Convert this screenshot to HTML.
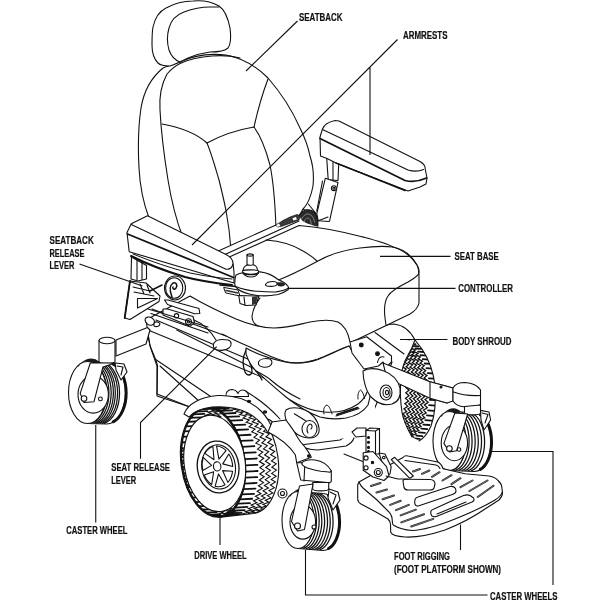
<!DOCTYPE html>
<html><head><meta charset="utf-8">
<style>
html,body{margin:0;padding:0;background:#fff;width:600px;height:600px;overflow:hidden}
svg{display:block}
text{font-family:"Liberation Sans",sans-serif;font-weight:bold;font-size:10px;fill:#111;stroke:#111;stroke-width:0.2px}
</style></head><body>
<svg width="600" height="600" viewBox="0 0 600 600">
<rect width="600" height="600" fill="#fff"/>
<g id="drawing" fill="#fff" stroke="#111" stroke-width="1.1" stroke-linejoin="round" stroke-linecap="round">

<path d="M163 68 C152 77 144 90 141 108 C138 128 138 150 139 168 C140 188 143 202 149 218 L225 262 L298 222 C300 214 301 212 302.7 209.5 C307 205 311 197 313 186 C314 176 313 165 310 156 C308 146 305 138 300 128 C292 110 282 94 268 78 C256 66 242 58 226 55 C208 53 192 56 180 62 C174 64 168 66 163 68 Z"/>
<path fill="none" d="M183 238 C177 222 172 205 168 180 C164 155 161 130 160 110 C159 95 161 85 167 74 C172 68 177 65 181 63"/>
<path fill="none" d="M162 124 C178 127 195 132 207 143"/>
<path fill="none" d="M207 143 C218 137 236 130 254 127"/>
<path fill="none" d="M254 127 C256 118 260 100 268 79"/>
<path fill="none" d="M254 127 C260 135 266 150 270 165 C273 180 275 200 276 228"/>
<path fill="none" d="M207 143 C212 155 216 170 219 180 C224 200 229 220 231 250"/>
<path d="M170 66 C164 66 160 65 158 63 C154 59 152 52 152 45 C152 38 152 32 153 27 C155 18 160 11 166 8 C175 3 185 1 193 1 C203 0 212 2 219 6 C225 10 228 18 230 28 C231 36 231 44 228 48 C225 51 218 52 210 52 C202 53 195 55 188 58 C182 61 176 64 170 66 Z"/>
<path fill="none" d="M180 62 C175 60 171 56 169 50 C167 43 167 35 169 28 C171 20 176 15 184 12 C192 9 202 7 210 7 C214 7 217 7 219 7"/>
<path fill="none" d="M181 63 C190 59 200 57 212 56 C222 55 232 56 240 58"/>


<path fill="#2a2a2a" stroke="#111" d="M295.5 227 C295.5 219 300 211.5 306.5 209.8 C312 209 316.5 213 317.5 218.5 C318 221.5 318 224 317.8 227 Z"/>
<path fill="none" stroke="#999" stroke-width="0.8" d="M300 226 C300 220 303 215 307 214 C311 213.8 313.8 217 314.5 222 M303.5 226 C303.5 222 305 218.5 307.5 218 C310 218 311 221 311.2 224"/>
<path fill="none" d="M302.7 209.5 L305 209.8"/>
<path fill="none" d="M308.3 204 L316 213.5"/>


<path d="M326.7 158 L328.2 179.7 L338 180.5 L338.8 162 Z"/>
<path fill="none" d="M333 160 L333 180"/>
<path d="M325.3 178.3 L338 182.6 L329.6 220.8 L328.9 221.5 L318.2 220.8 L316.8 213.7 Z"/>
<path fill="none" d="M322.5 181 L316.8 211"/>
<path fill="none" d="M318.2 220.8 L328 217"/>
<circle cx="333.8" cy="188.2" r="2.4"/>
<circle cx="333.8" cy="188.2" r="1"/>
<path d="M320 137 L322.5 129 C324 125 328 122 335 120.5 L339 121 L420 161.5 C424 164 425.5 166 425 168 L427 178 L426 184 L420 187 L408 191 L336 163 L327 158.5 L320.5 156 Z"/>
<path fill="none" d="M322.5 129.5 L408 170 C413 171.5 419 171.5 423.5 169.5"/>
<path fill="none" stroke-width="1.8" d="M320 138.5 L405 180.5 C413 182.5 420 181 426.5 178"/>
<path fill="none" stroke-width="1.6" stroke-dasharray="1 1" d="M336 163 L405 190.5"/>

<clipPath id="rdclip"><path d="M372 332 C380 327 388 324 394 324 C402 325 410 330 415 340 L422 349 C428 358 433 370 435 385 C436 400 435 415 431 426 C428 433 424 438 419 441 L412 437 C407 428 403 420 402 412 C400 400 400 390 401 378 C402 368 404 362 407 357 C410 352 413 346 415 342 Z"/></clipPath>
<path stroke="none" d="M372 332 C380 327 388 324 394 324 C402 325 410 330 415 340 L422 349 C428 358 433 370 435 385 C436 400 435 415 431 426 C428 433 424 438 419 441 L412 437 C407 428 403 420 402 412 C400 400 400 390 401 378 C402 368 404 362 407 357 C410 352 413 346 415 342 Z"/>
<g clip-path="url(#rdclip)">
<path fill="none" stroke-width="1.8" d="M399.6 341.8 L393.6 341.4 M402.8 341.1 L396.8 340.7 M406.1 341.0 L400.1 340.6 M409.3 341.5 L403.3 341.1 M412.5 342.5 L406.5 342.1 M415.6 344.1 L409.6 343.7 M418.6 346.3 L412.6 345.9 M421.4 348.9 L415.4 348.5 M424.1 352.0 L418.1 351.6 M426.5 355.6 L420.5 355.2 M428.7 359.6 L422.7 359.2 M430.7 363.9 L424.7 363.5 M432.4 368.6 L426.4 368.2 M433.7 373.5 L427.7 373.1 M434.8 378.7 L428.8 378.3 M435.5 384.0 L429.5 383.6 M435.9 389.4 L429.9 389.0 M436.0 394.8 L430.0 394.4 M435.7 400.2 L429.7 399.8 M435.1 405.6 L429.1 405.2 M434.1 410.8 L428.1 410.4 M432.9 415.8 L426.9 415.4 M431.3 420.6 L425.3 420.2 M429.4 425.0 L423.4 424.6 M427.3 429.1 L421.3 428.7 M424.9 432.8 L418.9 432.4 M422.3 436.1 L416.3 435.7 M419.6 438.9 L413.6 438.5 M416.6 441.2 L410.6 440.8 M413.5 443.0 L407.5 442.6 M410.4 444.2 L404.4 443.8 M407.2 444.9 L401.2 444.5 M403.9 445.0 L397.9 444.6 M400.7 444.5 L394.7 444.1"/>
<path fill="none" stroke-width="1.3" stroke-linejoin="miter" d="M389.0 341.1 L393.9 340.9 L392.2 340.4 L397.1 340.5 L395.4 340.3 L400.4 340.7 L398.7 340.8 L403.6 341.5 L401.8 341.8 L406.7 342.8 L405.0 343.4 L409.8 344.6 L407.9 345.6 L412.7 347.0 L410.8 348.2 L415.4 349.9 L413.4 351.3 L418.0 353.3 L415.9 354.9 L420.3 357.0 L418.1 358.9 L422.4 361.2 L420.1 363.2 L424.2 365.7 L421.7 367.9 L425.7 370.5 L423.1 372.8 L427.0 375.6 L424.1 378.0 L427.9 380.8 L424.9 383.3 L428.4 386.2 L425.3 388.7 L428.6 391.6 L425.3 394.1 L428.5 397.0 L425.0 399.5 L428.1 402.4 L424.4 404.9 L427.3 407.7 L423.5 410.1 L426.2 412.8 L422.2 415.1 L424.8 417.7 L420.6 419.8 L423.0 422.3 L418.8 424.3 L421.0 426.6 L416.6 428.4 L418.8 430.5 L414.3 432.1 L416.3 434.0 L411.7 435.4 L413.6 437.1 L408.9 438.2 L410.8 439.6 L406.0 440.5 L407.7 441.7 L402.9 442.3 L404.6 443.2 L399.7 443.5 L401.4 444.1 L396.5 444.2 L398.2 444.5 L393.3 444.3 L394.9 444.3 L390.0 443.8 M385.1 340.8 L390.0 340.6 L388.3 340.2 L393.2 340.3 L391.5 340.1 L396.5 340.4 L394.8 340.5 L399.7 341.2 L397.9 341.6 L402.8 342.5 L401.1 343.2 L405.9 344.4 L404.0 345.3 L408.8 346.8 L406.9 347.9 L411.5 349.7 L409.5 351.1 L414.1 353.0 L412.0 354.6 L416.4 356.8 L414.2 358.6 L418.5 361.0 L416.2 363.0 L420.3 365.5 L417.8 367.6 L421.8 370.3 L419.2 372.6 L423.1 375.3 L420.2 377.7 L424.0 380.6 L421.0 383.0 L424.5 385.9 L421.4 388.4 L424.7 391.3 L421.4 393.8 L424.6 396.8 L421.1 399.3 L424.2 402.2 L420.5 404.6 L423.4 407.5 L419.6 409.8 L422.3 412.6 L418.3 414.8 L420.9 417.5 L416.7 419.6 L419.1 422.1 L414.9 424.0 L417.1 426.4 L412.7 428.2 L414.9 430.3 L410.4 431.9 L412.4 433.8 L407.8 435.1 L409.7 436.8 L405.0 437.9 L406.9 439.4 L402.1 440.2 L403.8 441.4 L399.0 442.0 L400.7 442.9 L395.8 443.2 L397.5 443.9 L392.6 443.9 L394.3 444.2 L389.4 444.0 L391.0 444.1 L386.1 443.5 M381.2 340.6 L386.1 340.4 L384.4 339.9 L389.3 340.0 L387.6 339.8 L392.6 340.2 L390.9 340.3 L395.8 340.9 L394.0 341.3 L398.9 342.3 L397.2 342.9 L402.0 344.1 L400.1 345.0 L404.9 346.5 L403.0 347.7 L407.6 349.4 L405.6 350.8 L410.2 352.7 L408.1 354.4 L412.5 356.5 L410.3 358.3 L414.6 360.7 L412.3 362.7 L416.4 365.2 L413.9 367.4 L417.9 370.0 L415.3 372.3 L419.2 375.1 L416.3 377.4 L420.1 380.3 L417.1 382.7 L420.6 385.7 L417.5 388.1 L420.8 391.1 L417.5 393.6 L420.7 396.5 L417.2 399.0 L420.3 401.9 L416.6 404.3 L419.5 407.2 L415.7 409.6 L418.4 412.3 L414.4 414.6 L417.0 417.2 L412.8 419.3 L415.2 421.8 L411.0 423.8 L413.2 426.1 L408.8 427.9 L411.0 430.0 L406.5 431.6 L408.5 433.5 L403.9 434.9 L405.8 436.6 L401.1 437.7 L403.0 439.1 L398.2 440.0 L399.9 441.2 L395.1 441.8 L396.8 442.7 L391.9 443.0 L393.6 443.6 L388.7 443.6 L390.4 444.0 L385.5 443.7 L387.1 443.8 L382.2 443.3 M377.3 340.3 L382.2 340.1 L380.5 339.6 L385.4 339.7 L383.7 339.5 L388.7 339.9 L387.0 340.0 L391.9 340.7 L390.1 341.1 L395.0 342.0 L393.3 342.6 L398.1 343.9 L396.2 344.8 L401.0 346.2 L399.1 347.4 L403.7 349.1 L401.7 350.5 L406.3 352.5 L404.2 354.1 L408.6 356.3 L406.4 358.1 L410.7 360.4 L408.4 362.4 L412.5 364.9 L410.0 367.1 L414.0 369.8 L411.4 372.0 L415.3 374.8 L412.4 377.2 L416.2 380.0 L413.2 382.5 L416.7 385.4 L413.6 387.9 L416.9 390.8 L413.6 393.3 L416.8 396.3 L413.3 398.7 L416.4 401.7 L412.7 404.1 L415.6 406.9 L411.8 409.3 L414.5 412.0 L410.5 414.3 L413.1 416.9 L408.9 419.1 L411.3 421.6 L407.1 423.5 L409.3 425.8 L404.9 427.6 L407.1 429.8 L402.6 431.3 L404.6 433.3 L400.0 434.6 L401.9 436.3 L397.2 437.4 L399.1 438.9 L394.3 439.7 L396.0 440.9 L391.2 441.5 L392.9 442.4 L388.0 442.7 L389.7 443.3 L384.8 443.4 L386.5 443.7 L381.6 443.5 L383.2 443.5 L378.3 443.0 M373.4 340.0 L378.3 339.9 L376.6 339.4 L381.5 339.5 L379.8 339.3 L384.8 339.7 L383.1 339.8 L388.0 340.4 L386.2 340.8 L391.1 341.7 L389.4 342.4 L394.2 343.6 L392.3 344.5 L397.1 346.0 L395.2 347.2 L399.8 348.9 L397.8 350.3 L402.4 352.2 L400.3 353.8 L404.7 356.0 L402.5 357.8 L406.8 360.2 L404.5 362.2 L408.6 364.7 L406.1 366.8 L410.1 369.5 L407.5 371.8 L411.4 374.5 L408.5 376.9 L412.3 379.8 L409.3 382.2 L412.8 385.1 L409.7 387.6 L413.0 390.6 L409.7 393.1 L412.9 396.0 L409.4 398.5 L412.5 401.4 L408.8 403.8 L411.7 406.7 L407.9 409.0 L410.6 411.8 L406.6 414.0 L409.2 416.7 L405.0 418.8 L407.4 421.3 L403.2 423.3 L405.4 425.6 L401.0 427.4 L403.2 429.5 L398.7 431.1 L400.7 433.0 L396.1 434.4 L398.0 436.0 L393.3 437.2 L395.2 438.6 L390.4 439.5 L392.1 440.6 L387.3 441.2 L389.0 442.1 L384.1 442.5 L385.8 443.1 L380.9 443.1 L382.6 443.5 L377.7 443.2 L379.3 443.3 L374.4 442.7 M369.5 339.8 L374.4 339.6 L372.7 339.1 L377.6 339.2 L375.9 339.0 L380.9 339.4 L379.2 339.5 L384.1 340.2 L382.3 340.5 L387.2 341.5 L385.5 342.1 L390.3 343.3 L388.4 344.3 L393.2 345.7 L391.3 346.9 L395.9 348.6 L393.9 350.0 L398.5 352.0 L396.4 353.6 L400.8 355.7 L398.6 357.6 L402.9 359.9 L400.6 361.9 L404.7 364.4 L402.2 366.6 L406.2 369.2 L403.6 371.5 L407.5 374.3 L404.6 376.7 L408.4 379.5 L405.4 382.0 L408.9 384.9 L405.8 387.4 L409.1 390.3 L405.8 392.8 L409.0 395.7 L405.5 398.2 L408.6 401.1 L404.9 403.6 L407.8 406.4 L404.0 408.8 L406.7 411.5 L402.7 413.8 L405.3 416.4 L401.1 418.5 L403.5 421.0 L399.3 423.0 L401.5 425.3 L397.1 427.1 L399.3 429.2 L394.8 430.8 L396.8 432.7 L392.2 434.1 L394.1 435.8 L389.4 436.9 L391.3 438.3 L386.5 439.2 L388.2 440.4 L383.4 441.0 L385.1 441.9 L380.2 442.2 L381.9 442.8 L377.0 442.9 L378.7 443.2 L373.8 443.0 L375.4 443.0 L370.5 442.5"/>
</g>
<path fill="none" d="M415 340 L422 349 C428 358 433 370 435 385 C436 400 435 415 431 426 C428 433 424 438 419 441"/>
<path fill="none" d="M372 332 C380 327 388 324 394 324 C402 325 410 330 415 340 C413 346 410 352 407 357 C404 362 402 368 401 378 C400 390 400 400 402 412 C403 420 407 428 412 437"/>

<path d="M146 320 L190 296 L250 322 L300 340 L352 342 L392 362 L386 380 L370 420 L340 440 L300 445 L270 420 L230 404 L190 407 L157 396 L157 366 L150 346 Z"/>
<path fill="none" d="M152 309 L226 336"/>
<path fill="none" d="M156 320 L250 360 L300 382"/>
<path fill="none" d="M148 330 L250 372 L310 398"/>
<path fill="none" d="M147 329 C148 338 150 347 153 353 C155 358 157 362 157.5 366 L157 394 L190 407"/>
<path fill="none" d="M155.3 359.3 L210 396"/>
<path fill="none" d="M160 366 L200 402"/>
<path fill="none" d="M176.7 330 L310 396.7"/>


<path stroke="none" d="M215 252.5 L276 225 L300 216.5 C300 226 330 228 363 237 C378 241 390 245 393 247 C403 250 412 257 417 265 C419 269 419 272 419 276 L419 303 C418 308 415 311 410 314 L354 341 C350 345 348 348 346 350 C335 356 320 362 300 362 C280 362 265 356 250 345 C238 338 228 332 220 326 L200 302 L190 296 L165 288 L146 275 L140 240 Z"/>
<path fill="none" d="M393 247 C403 250 412 257 417 265 C419 269 419 272 419 276 L419 303 C418 308 415 311 410 314 L354 341"/>
<path fill="none" d="M363 237 C378 241 390 245 393 247"/>
<path fill="none" d="M215 252.5 L276 225"/>
<path fill="none" d="M215 259 L299 221"/>
<path fill="none" d="M215 263.5 L299 225.5 C320 227 340 231 363 237"/>
<path fill="none" d="M266 240 C280 241 292 244 303 251 C310 255 314 258 317 261"/>
<path fill="none" d="M276 281 C292 275 305 268 318 261 C330 254 345 250 360 248 C375 246 385 246 393 247 C403 249 412 256 417 265 C419 268 419.5 271 418.5 274 C417 277 413 279 408 282 C398 287 391 291 388 296 C384 302 384 310 385 318 L386 325"/>
<path fill="none" d="M190 296 C205 305 220 312 236 319 C248 324 262 328 274 328 C290 328 300 324 310 322 C320 320 330 319 338 322 C344 325 348 332 350 342"/>
<path fill="none" d="M260 298 C256 303 253 309 252 316 C252 321 254 324 258 326"/>
<path fill="none" d="M222 334 C230 338 240 343 250 347 C262 353 272 358 285 361.5 C297 364 308 362.5 318 359 C328 355 338 350 349 346"/>


<path fill="#3a3a3a" stroke="#111" stroke-width="0.7" d="M277 224.5 L283 220.5 L290 217 L297 214.5 L300 216 L299 220 L291 223 L281 226.5 Z"/>
<path fill="#fff" stroke="#111" stroke-width="0.6" d="M276 224.8 L279 223 L281 226 L278 227 Z M292 218 L296 216.5 L297.5 219.5 L293.5 221 Z"/>


<path d="M127 232.5 L131.25 223.75 L147.5 215.8 L226 254.5 C231 257 233 260 233 263.5 L234 272 L234 283 L129.2 251.7 Z"/>
<path fill="none" d="M131.25 224.6 L226 269.2 C229.5 269.6 232 268 233 264"/>
<path fill="none" stroke-width="1.8" d="M127.5 234 L233.5 277.5"/>


<path fill="none" stroke-width="2" d="M131 256 C145 263 165 271 185 277 C200 281 215 283 232 285"/>
<path fill="none" stroke-width="1" d="M133 254 C150 261 170 268 190 273 C205 276 218 278 232 279"/>
<path d="M131.5 257 L146.5 265.5 L146.5 279 L138 281 L131 279 Z"/>
<path fill="none" d="M137 259 L137 280 M142 262 L142 279.5"/>
<path d="M130 281 L146 283 L160 296 L159 301.5 L130 319.5 L124.7 318 Z"/>
<path fill="none" stroke-width="1.8" d="M130 281 L124.7 318"/>
<path fill="none" d="M137.5 308 L137.5 298.5 L157.5 298.5 Z"/>
<path fill="none" d="M133 287 L150 291 M134 292 L154 296 M140 284 L144 294 M147 285 L150 293"/>
<path fill="none" stroke-width="1.4" d="M150 291 L162 285"/>
<ellipse cx="175" cy="288" rx="10.5" ry="12"/>
<ellipse cx="174.2" cy="288" rx="8.6" ry="10.3"/>
<path fill="none" stroke-width="1.5" d="M172 297 C170 292 169 286 173 283 C176 282 178 285 176 288 C175 290 172 289 173 287"/>
<path d="M163 309 L167.5 309 L193 316.5 L194.5 322.5 L190 326.3 L163 315 Z"/>
<path d="M164.5 300 L168 300 L199 308.5 L199.8 313.5 L194.5 313.8 L167.5 304.5 Z"/>
<circle cx="176.5" cy="315.8" r="2.2"/>
<circle cx="188.5" cy="321.8" r="3"/>
<circle cx="188.5" cy="321.8" r="1.2"/>
<path fill="none" d="M148 309 L208 327 M151 313.5 L208 333"/>
<path d="M145 320 C145 317 149 316 152 318 C155 320 156 324 152 325 C149 326 146 324 145 320 Z"/>
<path d="M154 323 C156 321 159 322 160 324 C159 327 156 327 154 326 Z"/>
<path fill="none" d="M194 320 C204 324 210 330 216 340"/>
<path d="M214 343 C216 340 222 339 228 340 C232 341 232 346 229 348 C225 351 218 351 215 349 C213 347 213 345 214 343 Z"/>
<path fill="none" stroke-width="1.3" d="M246 350 C243 356 242 364 245 372 C247 376 251 376 252 372 C252 366 249 360 249 356 M250 364 C254 368 258 372 262 380"/>


<path fill="none" stroke-width="1.6" d="M220 285 L236 286.5"/>
<path fill="#fff" stroke-width="1" d="M224 287.5 L238 290 L240 296 L226 293 Z"/>
<path fill="none" stroke="#333" stroke-width="1.6" stroke-dasharray="0.8 0.8" d="M226 290.5 L238 293"/>
<path d="M238.7 295.5 L240 303.5 L246 305.5 L256 305 L259 296 Z"/>
<path fill="#333" stroke="none" d="M252 297 L258 296 L256 304 L252 305 Z"/>
<path fill="none" d="M244 297 L245 305"/>
<path d="M236 275 C240 273 250 271.5 260 271.9 C266 272.5 272 274.5 278.75 280 C282 281 285 282.5 288 286.25 C289 288 288.5 290 287.5 290 C285 292 282 293.5 278 294.5 C270 296 262 296 257.5 295.5 C250 294.5 243 293 238.5 289.5 C235.5 287.5 234.5 285 234.8 283 C235 280 235 277 236 275 Z"/>
<path fill="none" d="M235 286.25 C242 289 250 291 257.5 291.25 C265 291.8 272 292 276.25 291.9 C281 291.5 285 290 287.5 288.75"/>
<path d="M265.5 284.5 C266.5 282.5 270 281.3 274 281.5 C276.5 281.8 277.5 283 277 284.5 C276 286 272 286.6 268.5 286.3 C266 286 265.2 285.4 265.5 284.5 Z"/>
<path fill="#222" stroke="none" d="M277 282.5 C279.5 281.8 283 282.2 285 283.5 C285.5 285 284 286.3 281 286.5 C279 286.6 277.5 285.8 277 284.5 Z"/>
<path d="M243 271 C243 268 245 266 247 265 C249 264.2 252 264.2 254 265 C256.5 266 257.5 268.5 257.5 271 Z"/>
<path d="M242.5 271 C242.5 273.5 245 277 250.5 277 C256 277 258.7 274 258.7 271 C258 269.5 243.5 269.5 242.5 271 Z"/>
<path fill="none" stroke-width="1.6" d="M243 273 C246 275 255 275 258.3 273"/>
<path d="M247 255 L247 264.5 C248 265.5 252.5 265.5 253.2 264.5 L253.2 255 Z"/>
<ellipse cx="250.1" cy="255" rx="3.1" ry="1.1"/>


<path stroke="none" d="M262 400 L273 406.7 L296.7 425.3 L300 440 L315.3 441.7 L355 437 L372 428 L378 420 L372 395 L356 392 L300 400 Z"/>

<path fill="none" d="M292 442 C300 447 308 450 318 450 L346 446 C350 444 353 441 354 438"/>
<path d="M352 432 L357 428 L366 428 L366 436 L356 437 Z"/>
<path d="M246 348 C258 355 272 359 285 362 C297 364.5 308 363 318 359.5 C328 355.5 338 350.5 349 346 L356 358 C362 363 367 370 369 378 C371 388 371 397 368 405 C364 411 356 416 346 418 C336 419.5 328 419 320 417 C308 413 296 405 286 397 C275 388 265 379 256 371 C251 366 248 360 246 354 Z"/>
<path fill="none" d="M290 400 C300 406 312 411 324 412 C336 413 348 411 358 404 C363 400 366 396 367 392"/>
<path fill="none" d="M256 371 C262 374 268 377 272 381 C280 388 290 394 300 399"/>
<path d="M258.5 362 C260 359 265 358 270 359 C273 361 272.5 365 269 366.5 C265 368 260 367 258.5 364.5 Z"/>
<path fill="none" stroke-width="1" d="M324 414 C323 410 324 406 327 405 C329 406 331 410 332 414 M358 399 C357.5 395 358.5 391 360.5 390 C362.5 391 364 395 364.5 398.5"/>
<path fill="none" stroke-width="1.8" stroke-dasharray="1 0.9" d="M337 414.5 L358 407.5"/>
<path fill="none" d="M336 416 L359 408.5"/>
<path d="M286 410 C290 407 298 407 305 410 C312 413 318 420 319 428 C320 434 316 438 310 438 C300 438 292 432 288 424 C285 419 284 413 286 410 Z"/>
<ellipse cx="309.5" cy="429" rx="7.5" ry="8.5"/>
<path fill="none" d="M308 433 C306 430 307 425 310 424 C312 424 313 427 311 429 M294.3 413.7 L306 421"/>
<path fill="none" d="M375 332.5 L404 354"/>
<path d="M350 342 L366.7 336.7 L391.5 356 L391.5 362 L386 367.5 L383 362 L378.5 366 L364 369 L352 353 Z"/>
<circle cx="361.3" cy="345" r="1.9" fill="#111"/>
<circle cx="377.5" cy="353.8" r="1.9" fill="#111"/>
<path fill="none" d="M377.5 362.5 C378 358 381 356 384 357"/>
<path d="M383 363 L430 381.7 L453 388 L455 398 L447 403 L430 398.3 L387 378.3 Z"/>
<path d="M363 371 C368 368 376 368 384 371 C392 374 398 380 400 388 C401 396 398 402 392 404 C385 406 377 403 371 397 C366 391 363 380 363 371 Z"/>
<ellipse cx="386" cy="392.5" rx="6" ry="7.5"/>
<ellipse cx="386.5" cy="392.5" rx="3.5" ry="5"/>
<ellipse cx="387" cy="392.5" rx="1.5" ry="2.2"/>

<path fill="#fff" d="M87.5 361.5 L106.5 362.0 A19.0 31.0 0 0 1 106.5 424.0 L87.5 423.5 Z"/>
<path fill="none" stroke-width="1.25" d="M89.6 362.2 A19.0 31.0 0 0 1 89.6 422.9"/>
<path fill="none" stroke-width="1.25" d="M91.7 362.2 A19.0 31.0 0 0 1 91.7 423.0"/>
<path fill="none" stroke-width="1.25" d="M93.8 362.3 A19.0 31.0 0 0 1 93.8 423.0"/>
<path fill="none" stroke-width="1.25" d="M95.9 362.3 A19.0 31.0 0 0 1 95.9 423.1"/>
<path fill="none" stroke-width="1.25" d="M98.1 362.4 A19.0 31.0 0 0 1 98.1 423.2"/>
<path fill="none" stroke-width="1.25" d="M100.2 362.5 A19.0 31.0 0 0 1 100.2 423.2"/>
<path fill="none" stroke-width="1.25" d="M102.3 362.5 A19.0 31.0 0 0 1 102.3 423.3"/>
<path fill="none" stroke-width="1.25" d="M104.4 362.6 A19.0 31.0 0 0 1 104.4 423.3"/>
<path fill="none" stroke-width="3" d="M113.2 364.2 A18.0 30.0 0 0 1 113.2 421.8"/>
<ellipse cx="87.5" cy="392.5" rx="19.0" ry="31.0"/>
<path fill="#1a1a1a" stroke="none" d="M76.6 367.1 A19.0 31.0 0 0 1 94.0 363.4 L99.7 361.9 A19.0 31.0 0 0 0 78.3 366.7 Z"/>
<ellipse cx="93.2" cy="394.5" rx="15.2" ry="18.6"/>

<path d="M116 340 L147.5 327.5 L150 330 L146 344 L116 356 Z"/>
<path d="M99 340.5 L99 361.5 C99 364 115 364 115 361.5 L115 340.5 Z"/>
<ellipse cx="107" cy="340.5" rx="8" ry="3.2"/>
<path d="M90.3 363 L115 363 L103 367 L94 401.7 L84 402.5 L80.2 393.4 Z"/>
<path d="M115 363 L124 364 L127 372 L121 380 L116 370 Z"/>
<path fill="none" d="M117 366 L123 367 L121 375"/>
<circle cx="84" cy="398.5" r="2.8"/>
<circle cx="100.4" cy="398.9" r="1.9"/>

<g transform="rotate(-8 214 462)">
<clipPath id="dwclip"><path d="M213 406.5 L246 411.5 A32 53.5 0 0 1 246 518.5 L213 517.5 A32 55.5 0 0 1 213 406.5 Z"/></clipPath>
<path fill="#fff" stroke="none" d="M213 406.5 L246 411.5 A32 53.5 0 0 1 246 518.5 L213 517.5 A32 55.5 0 0 1 213 406.5 Z"/>
<g clip-path="url(#dwclip)">
<path fill="none" stroke-width="1.8" d="M182.9 481.0 L194.8 482.1 M181.9 475.0 L193.8 476.0 M181.2 468.8 L193.1 469.8 M181.0 462.5 L192.9 463.6 M181.2 456.2 L193.1 457.3 M181.8 450.0 L193.6 451.1 M182.7 443.9 L194.6 445.0 M184.1 438.1 L196.0 439.2 M185.9 432.6 L197.7 433.7 M188.0 427.5 L199.8 428.5 M190.4 422.8 L202.3 423.8 M193.1 418.6 L205.0 419.6 M196.0 414.9 L207.9 416.0 M199.2 411.9 L211.1 413.0 M202.6 409.5 L214.5 410.6 M206.1 407.8 L218.0 408.9 M209.7 406.8 L221.5 407.9 M213.3 406.5 L225.2 407.6 M216.9 406.9 L228.8 408.0 M220.5 408.0 L232.4 409.1 M223.9 409.8 L235.8 410.9 M227.3 412.3 L239.2 413.4 M230.4 415.5 L242.3 416.5 M233.4 419.2 L245.2 420.3 M236.0 423.4 L247.9 424.5 M238.4 428.2 L250.3 429.3 M240.4 433.4 L252.3 434.5 M242.1 439.0 L254.0 440.1 M243.4 444.8 L255.3 445.9 M244.4 450.9 L256.2 452.0 M244.9 457.2 L256.8 458.2 M245.0 463.5 L256.9 464.5 M244.7 469.7 L256.6 470.8 M244.0 475.9 L255.9 477.0 M242.9 481.9 L254.8 483.0 M241.4 487.6 L253.3 488.7 M239.5 493.0 L251.4 494.1 M237.3 498.0 L249.2 499.1 M234.8 502.6 L246.7 503.7 M232.0 506.6 L243.9 507.7 M229.0 510.1 L240.9 511.1 M225.8 512.9 L237.6 514.0 M222.4 515.1 L234.2 516.2 M218.8 516.6 L230.7 517.7 M215.2 517.4 L227.1 518.4 M211.6 517.4 L223.5 518.5 M208.0 516.8 L219.9 517.9 M204.4 515.5 L216.3 516.6 M201.0 513.5 L212.9 514.5 M197.7 510.8 L209.6 511.9 M194.6 507.5 L206.5 508.5 M191.8 503.6 L203.7 504.6 M189.2 499.1 L201.1 500.2 M186.9 494.2 L198.8 495.3 M185.0 488.9 L196.9 490.0 M183.4 483.2 L195.3 484.3 M182.2 477.3 L194.1 478.4 M181.4 471.2 L193.3 472.2 M181.0 464.9 L192.9 466.0 M181.1 458.6 L192.9 459.7 M181.5 452.4 L193.4 453.4 M182.3 446.2 L194.2 447.3"/>
<path fill="none" stroke-width="1.1" stroke-linejoin="miter" d="M201.7 482.7 L196.5 479.3 L200.7 476.7 L195.7 473.2 L200.0 470.5 L195.3 466.9 L199.8 464.2 L195.2 460.6 L200.0 457.9 L195.6 454.4 L200.6 451.7 L196.4 448.2 L201.6 445.6 L197.6 442.3 L202.9 439.8 L199.1 436.6 L204.7 434.3 L201.1 431.3 L206.8 429.2 L203.3 426.3 L209.2 424.5 L205.9 421.9 L211.9 420.3 L208.7 418.0 L214.9 416.6 L211.8 414.6 L218.0 413.6 L215.1 411.9 L221.4 411.2 L218.5 409.9 L224.9 409.5 L222.0 408.5 L228.5 408.5 L225.7 407.9 L232.1 408.2 L229.3 407.9 L235.7 408.6 L232.9 408.7 L239.3 409.7 L236.4 410.1 L242.8 411.6 L239.8 412.3 L246.1 414.0 L243.1 415.1 L249.2 417.2 L246.1 418.5 L252.2 420.9 L248.9 422.5 L254.8 425.2 L251.4 427.1 L257.2 429.9 L253.6 432.1 L259.2 435.1 L255.5 437.4 L260.9 440.7 L257.0 443.2 L262.2 446.6 L258.1 449.2 L263.2 452.6 L258.9 455.3 L263.7 458.9 L259.2 461.6 L263.8 465.2 L259.1 467.9 L263.5 471.4 L258.6 474.1 L262.8 477.6 L257.7 480.2 L261.7 483.6 L256.4 486.1 L260.2 489.3 L254.7 491.7 L258.3 494.7 L252.7 496.9 L256.1 499.8 L250.3 501.7 L253.6 504.3 L247.7 506.0 L250.8 508.3 L244.7 509.7 L247.8 511.8 L241.6 512.9 L244.6 514.6 L238.3 515.4 L241.2 516.8 L234.8 517.2 L237.6 518.3 L231.2 518.3 L234.0 519.1 L227.6 518.8 L230.4 519.2 L224.0 518.5 L226.8 518.5 L220.4 517.5 L223.3 517.2 L216.9 515.8 L219.8 515.2 L213.5 513.5 L216.5 512.5 L210.4 510.5 L213.5 509.2 L207.4 506.9 L210.6 505.3 L204.7 502.7 L208.0 500.8 L202.2 498.0 L205.8 495.9 L200.1 492.9 L203.8 490.6 L198.4 487.4 L202.2 484.9 L197.0 481.6 L201.0 479.0 L196.0 475.5 L200.2 472.9 L195.4 469.3 L199.9 466.6 L195.2 463.0 L199.9 460.3 L195.4 456.8 L200.3 454.1 L196.0 450.6 L201.1 447.9 L197.1 444.5 M207.7 483.2 L202.5 479.8 L206.6 477.2 L201.6 473.7 L206.0 471.0 L201.2 467.5 L205.8 464.7 L201.2 461.2 L205.9 458.4 L201.5 454.9 L206.5 452.2 L202.3 448.8 L207.5 446.2 L203.5 442.8 L208.9 440.4 L205.1 437.1 L210.6 434.8 L207.0 431.8 L212.7 429.7 L209.3 426.9 L215.1 425.0 L211.8 422.4 L217.8 420.8 L214.7 418.5 L220.8 417.2 L217.7 415.2 L224.0 414.2 L221.0 412.5 L227.3 411.8 L224.4 410.4 L230.8 410.1 L228.0 409.1 L234.4 409.1 L231.6 408.4 L238.0 408.8 L235.2 408.4 L241.6 409.2 L238.8 409.2 L245.2 410.3 L242.4 410.7 L248.7 412.1 L245.8 412.8 L252.0 414.6 L249.0 415.6 L255.2 417.7 L252.1 419.1 L258.1 421.4 L254.9 423.1 L260.8 425.7 L257.4 427.6 L263.1 430.5 L259.6 432.6 L265.2 435.7 L261.4 438.0 L266.9 441.2 L263.0 443.7 L268.2 447.1 L264.1 449.7 L269.1 453.2 L264.8 455.9 L269.6 459.4 L265.1 462.1 L269.7 465.7 L265.0 468.4 L269.4 472.0 L264.5 474.7 L268.7 478.1 L263.6 480.7 L267.6 484.1 L262.3 486.6 L266.1 489.9 L260.6 492.2 L264.3 495.3 L258.6 497.4 L262.1 500.3 L256.2 502.2 L259.6 504.8 L253.6 506.5 L256.8 508.9 L250.7 510.2 L253.8 512.3 L247.5 513.4 L250.5 515.1 L244.2 515.9 L247.1 517.3 L240.7 517.7 L243.6 518.8 L237.2 518.9 L240.0 519.6 L233.5 519.3 L236.4 519.7 L229.9 519.1 L232.7 519.1 L226.3 518.1 L229.2 517.7 L222.8 516.4 L225.8 515.7 L219.5 514.0 L222.5 513.0 L216.3 511.0 L219.4 509.7 L213.3 507.4 L216.5 505.8 L210.6 503.2 L214.0 501.4 L208.2 498.6 L211.7 496.5 L206.1 493.4 L209.8 491.2 L204.3 487.9 L208.2 485.5 L202.9 482.1 L207.0 479.5 L201.9 476.1 L206.2 473.4 L201.3 469.9 L205.8 467.2 L201.1 463.6 L205.8 460.9 L201.4 457.3 L206.2 454.6 L202.0 451.1 L207.1 448.5 L203.0 445.1 M213.6 483.8 L208.4 480.4 L212.6 477.7 L207.6 474.2 L211.9 471.6 L207.1 468.0 L211.7 465.3 L207.1 461.7 L211.9 459.0 L207.5 455.4 L212.4 452.8 L208.3 449.3 L213.4 446.7 L209.5 443.4 L214.8 440.9 L211.0 437.7 L216.6 435.4 L212.9 432.3 L218.6 430.2 L215.2 427.4 L221.1 425.5 L217.8 423.0 L223.8 421.4 L220.6 419.0 L226.7 417.7 L223.7 415.7 L229.9 414.7 L227.0 413.0 L233.3 412.3 L230.4 411.0 L236.8 410.6 L233.9 409.6 L240.3 409.6 L237.5 408.9 L244.0 409.3 L241.2 409.0 L247.6 409.7 L244.8 409.8 L251.2 410.8 L248.3 411.2 L254.6 412.6 L251.7 413.4 L258.0 415.1 L254.9 416.2 L261.1 418.2 L258.0 419.6 L264.0 422.0 L260.8 423.6 L266.7 426.2 L263.3 428.1 L269.1 431.0 L265.5 433.1 L271.1 436.2 L267.4 438.5 L272.8 441.8 L268.9 444.3 L274.1 447.6 L270.0 450.2 L275.0 453.7 L270.7 456.4 L275.6 460.0 L271.1 462.7 L275.7 466.2 L271.0 469.0 L275.4 472.5 L270.5 475.2 L274.7 478.7 L269.5 481.3 L273.6 484.7 L268.2 487.2 L272.1 490.4 L266.6 492.7 L270.2 495.8 L264.5 498.0 L268.0 500.8 L262.2 502.7 L265.5 505.4 L259.5 507.0 L262.7 509.4 L256.6 510.8 L259.7 512.9 L253.5 513.9 L256.4 515.7 L250.1 516.4 L253.0 517.9 L246.7 518.3 L249.5 519.4 L243.1 519.4 L245.9 520.2 L239.5 519.9 L242.3 520.2 L235.9 519.6 L238.7 519.6 L232.3 518.6 L235.1 518.3 L228.8 516.9 L231.7 516.2 L225.4 514.6 L228.4 513.6 L222.2 511.6 L225.3 510.3 L219.3 508.0 L222.5 506.4 L216.5 503.8 L219.9 501.9 L214.1 499.1 L217.6 497.0 L212.0 494.0 L215.7 491.7 L210.2 488.5 L214.1 486.0 L208.9 482.7 L212.9 480.1 L207.9 476.6 L212.1 474.0 L207.3 470.4 L211.7 467.7 L207.1 464.1 L211.7 461.4 L207.3 457.8 L212.2 455.2 L207.9 451.6 L213.0 449.0 L209.0 445.6"/>
<ellipse cx="213" cy="462" rx="31.2" ry="54.7" fill="none" stroke-width="2.2" stroke-dasharray="1.3 1.1"/>
</g>
<path fill="none" d="M213 406.5 L246 411.5 A32 53.5 0 0 1 246 518.5 L213 517.5"/>
<ellipse cx="213" cy="462" rx="32" ry="55.5" fill="none"/>
<ellipse cx="214.5" cy="463.5" rx="30.5" ry="48.5" fill="#fff"/>
<ellipse cx="217.4" cy="467.5" rx="20.8" ry="26" stroke-width="1.3"/>
<ellipse cx="217.9" cy="467.5" rx="16.8" ry="22.2"/>
<path fill="#fff" stroke-width="1.1" d="M219.3 459.8 L218.7 446.5 A15.2 20.4 0 0 1 227.5 452.4 Z"/>
<path fill="#fff" stroke-width="1.1" d="M222.4 465.1 L229.8 456.1 A15.2 20.4 0 0 1 231.9 469.1 Z"/>
<path fill="#fff" stroke-width="1.1" d="M221.3 471.7 L231.1 473.7 A15.2 20.4 0 0 1 224.9 484.1 Z"/>
<path fill="#fff" stroke-width="1.1" d="M216.8 474.5 L221.7 486.1 A15.2 20.4 0 0 1 211.8 486.1 Z"/>
<path fill="#fff" stroke-width="1.1" d="M212.3 471.6 L208.6 484.0 A15.2 20.4 0 0 1 202.5 473.5 Z"/>
<path fill="#fff" stroke-width="1.1" d="M211.2 465.0 L201.7 468.9 A15.2 20.4 0 0 1 203.9 455.9 Z"/>
<path fill="#fff" stroke-width="1.1" d="M214.3 459.8 L206.2 452.2 A15.2 20.4 0 0 1 215.1 446.5 Z"/>
<ellipse cx="216.5" cy="466.8" rx="3.7" ry="4.6"/>
</g>
<path d="M226 396.5 C225.5 392 228 389.5 232 389.5 C235 389.7 237 391.5 238 393.5 C239 390.5 242 389.5 245 390.5 C247.5 391.5 248.5 393.5 248.5 396.5 Z"/>
<path d="M184 414 C188 404 200 397 218 395.5 C234 395 250 400 261 411 C267 417 271 424 274 432 L268 433 C264 425 257 418 248 413 C238 408 225 406 212 407 C200 408.5 193 412 189 417 Z"/>
<path fill="none" d="M246 391.5 C258 398.5 270 408 280 419"/>
<ellipse cx="249" cy="401.3" rx="1.6" ry="1.1" fill="#111"/><ellipse cx="265" cy="412" rx="1.6" ry="1.1" fill="#111"/>

<circle cx="282.5" cy="493.5" r="4.5"/>
<circle cx="282.5" cy="493.5" r="2"/>
<path fill="none" d="M344 454 L364 462"/>

<path fill="#fff" d="M298.0 491.5 L323.0 493.5 A16.0 28.5 0 0 1 323.0 550.5 L298.0 548.5 Z"/>
<path fill="none" stroke-width="1.25" d="M300.8 492.3 A16.0 28.5 0 0 1 300.8 548.2"/>
<path fill="none" stroke-width="1.25" d="M303.6 492.5 A16.0 28.5 0 0 1 303.6 548.4"/>
<path fill="none" stroke-width="1.25" d="M306.3 492.7 A16.0 28.5 0 0 1 306.3 548.6"/>
<path fill="none" stroke-width="1.25" d="M309.1 493.0 A16.0 28.5 0 0 1 309.1 548.8"/>
<path fill="none" stroke-width="1.25" d="M311.9 493.2 A16.0 28.5 0 0 1 311.9 549.0"/>
<path fill="none" stroke-width="1.25" d="M314.7 493.4 A16.0 28.5 0 0 1 314.7 549.3"/>
<path fill="none" stroke-width="1.25" d="M317.4 493.6 A16.0 28.5 0 0 1 317.4 549.5"/>
<path fill="none" stroke-width="1.25" d="M320.2 493.8 A16.0 28.5 0 0 1 320.2 549.7"/>
<path fill="none" stroke-width="3" d="M328.6 495.5 A15.0 27.5 0 0 1 328.6 548.5"/>
<ellipse cx="298.0" cy="520.0" rx="16.0" ry="28.5"/>
<path fill="#1a1a1a" stroke="none" d="M288.8 496.7 A16.0 28.5 0 0 1 303.5 493.2 L309.5 491.7 A16.0 28.5 0 0 0 290.6 496.2 Z"/>
<ellipse cx="302.8" cy="522.0" rx="12.8" ry="17.1"/>

<path d="M268 432 C280 438 288 444 295.3 454.7 L296.7 462.7 L311.3 457.3 C310 454 307 450 304.7 446.7 C302 444 299 440 296.7 436 C295 432 291 427 286 420 L272 422 Z"/>
<path d="M296.7 462.7 L300.7 480 L330 482.7 L331.3 481.3 L331.3 470.7 C328 465 322 461 315 460 C310 459.5 305 460 302 462.7 Z"/>
<path fill="none" d="M302 462.7 C301.5 464 302.5 465.5 304.7 466.7 C308 468.5 314 470 320.7 471.3 L328.7 472 C329.5 472.5 331 472 331.3 470.7"/>
<path fill="none" d="M304.7 466.7 L304 481"/>
<circle cx="308.7" cy="456" r="1.2" fill="#111"/>
<path d="M312.7 482.5 L312.7 489 C313 491.5 328.5 491.5 328.7 489 L328.7 482.5 Z"/>
<path d="M299.5 486 L313 484 L304.5 529.5 L297.5 531 L291.5 521.5 Z"/>
<path d="M329 489 L338 492 L340 500 L333 510 L328 498 Z"/>
<path fill="none" d="M330 492 L336 495 L333 504"/>
<circle cx="297.5" cy="526" r="3"/>
<circle cx="314" cy="527" r="2"/>

<path fill="#fff" d="M449.5 411.5 L474.5 412.5 A16.5 29.5 0 0 1 474.5 471.5 L449.5 470.5 Z"/>
<path fill="none" stroke-width="1.25" d="M452.6 412.2 A16.5 29.5 0 0 1 452.6 470.0"/>
<path fill="none" stroke-width="1.25" d="M455.8 412.3 A16.5 29.5 0 0 1 455.8 470.2"/>
<path fill="none" stroke-width="1.25" d="M458.9 412.5 A16.5 29.5 0 0 1 458.9 470.3"/>
<path fill="none" stroke-width="1.25" d="M462.0 412.6 A16.5 29.5 0 0 1 462.0 470.4"/>
<path fill="none" stroke-width="1.25" d="M465.1 412.7 A16.5 29.5 0 0 1 465.1 470.5"/>
<path fill="none" stroke-width="1.25" d="M468.2 412.8 A16.5 29.5 0 0 1 468.2 470.7"/>
<path fill="none" stroke-width="1.25" d="M471.4 413.0 A16.5 29.5 0 0 1 471.4 470.8"/>
<path fill="none" stroke-width="3" d="M480.3 414.6 A15.5 28.5 0 0 1 480.3 469.4"/>
<ellipse cx="449.5" cy="441.0" rx="16.5" ry="29.5"/>
<path fill="#1a1a1a" stroke="none" d="M440.0 416.8 A16.5 29.5 0 0 1 455.1 413.3 L461.1 411.8 A16.5 29.5 0 0 0 441.8 416.4 Z"/>
<ellipse cx="454.4" cy="443.0" rx="13.2" ry="17.7"/>

<path d="M430 381.7 L453 388 L453 401 L447 403 L430 398.3 Z"/>
<circle cx="441" cy="387" r="1" fill="#111"/>
<path d="M453 388 C455 384 459 382.5 465 382.5 C472 383 478 386 480.5 390 L480.5 404.5 C478 406.5 470 407 464 406.7 C459 406.5 455 404 453 401 Z"/>
<path fill="none" d="M453.5 392 C460 394.5 470 396 480.5 395.5"/>
<path d="M464.5 406.5 L464.5 413 C465 415.5 480 415.5 480.5 413 L480.5 405 Z"/>
<path d="M454.9 413 L467.7 414 L456.7 450.7 L449.4 452 L443.9 443.4 Z"/>
<path d="M480.5 410.4 L489 412 L490.6 420 L484 430 L481 420 Z"/>
<path fill="none" d="M482 413 L488 414.5 L485 423"/>
<circle cx="449.4" cy="448.5" r="2.8"/>
<circle cx="459" cy="449.5" r="1.8"/>


<path d="M359 482 L371 475.3 L403 457.5 C404 456 406 455.5 408 456 L437.7 462 C440 463 442 465.5 443 468.7 L465 473.75 L489 476 C494 477 497 479 498 480.5 C500.5 483 501.7 485 501.7 486.5 L502.5 492.5 C502.5 495 502 497 499 500 L485 509 C475 516 460 524 445 530 C430 535 415 537.5 405 537 C396 536.5 392 535 390.7 532.3 L390.5 524 C390 521 389 520 388 519 L376 512 L361 504 C358.5 502.5 357.7 501 357.7 499.3 L357.7 484.7 Z"/>
<path fill="none" d="M359 482 C360 484.5 361 486 363 488 L370 494 L377 500 L383 506 L389 512 C391 514.5 392 516 392 518 L392.5 523 C392.7 524.5 393 525 393.7 525.3 C398 528 404 530 412 530.5 C425 530 440 525 455 519 C470 513 485 506 495 500 C499 497.5 501.5 495 502.2 492"/>
<path fill="none" d="M405 460.5 L436 465 C438 465.5 439 466.5 440 468.5"/>
<path fill="none" d="M416 505.5 C414.5 504.5 414.5 502 415 499.5 C415.5 498 416.5 497.3 418 497 L450 486.5 C452.5 486 454.5 487 455.5 488.5 L456 491 C456 492.5 455 493.5 453 494.2 L419 505.8 C418 506.2 417 506.1 416 505.5 Z"/>
<path fill="none" d="M432 516 C431 515 430.5 513 431 511 C431.5 510 432.5 509.5 434 509 L463.5 495.5 C466 494.7 468 494.5 470 495.5 L473.5 498 C474.5 499.5 474 501 472 502 L437 516.2 C435.5 516.8 433.5 516.8 432 516 Z"/>
<path fill="none" d="M437 514 L466 502"/>
<path fill="none" d="M403 481 C403 480 404 479.3 406 479.3 L430 479.5 C433 479.7 435 481.5 435 484 L434 488 C433.5 489.5 432 490 430 490 L408 490 C406 490 404.5 489 404 487.5 Z"/>

<path fill="none" stroke="#222" stroke-width="2" stroke-linecap="round" d="M371.0 486.0 L380.5 483.0 M376.5 492.5 L387.0 489.5 M382.6 499.2 L394.0 495.5 M390.2 504.9 L400.7 500.8 M396.0 510.2 L408.8 504.9 M400.7 515.4 L415.8 509.6 M401.3 522.4 L424.0 514.2 M411.2 526.5 L433.3 518.9 M413.0 471.5 L420.0 469.0 M422.0 473.8 L429.3 470.5 M432.0 476.8 L439.5 472.2 M442.5 480.5 L451.5 475.2 M451.5 484.2 L460.5 478.2 M460.5 487.2 L472.5 480.5 M469.5 491.0 L487.5 480.5 M477.7 497.0 L493.5 485.8"/>
<path fill="none" stroke="#bbb" stroke-width="0.5" stroke-linecap="round" d="M371.0 486.0 L380.5 483.0 M376.5 492.5 L387.0 489.5 M382.6 499.2 L394.0 495.5 M390.2 504.9 L400.7 500.8 M396.0 510.2 L408.8 504.9 M400.7 515.4 L415.8 509.6 M401.3 522.4 L424.0 514.2 M411.2 526.5 L433.3 518.9 M413.0 471.5 L420.0 469.0 M422.0 473.8 L429.3 470.5 M432.0 476.8 L439.5 472.2 M442.5 480.5 L451.5 475.2 M451.5 484.2 L460.5 478.2 M460.5 487.2 L472.5 480.5 M469.5 491.0 L487.5 480.5 M477.7 497.0 L493.5 485.8"/>

<path d="M366 430.5 L370 428 L379.5 428.5 L379.5 454 L366 454 Z"/>
<path fill="none" d="M366 430.5 L375.5 431 L379.5 428.5 M375.5 431 L375.5 454"/>
<circle cx="368.5" cy="437.5" r="1" fill="#111"/><circle cx="368.5" cy="442.2" r="1" fill="#111"/><circle cx="368.5" cy="447.4" r="1" fill="#111"/><circle cx="368.5" cy="451.5" r="0.9" fill="#111"/>
<path d="M379 453 L385 454 L391.2 466.7 L390 474 L386 475 L382 462 Z"/>
<circle cx="383.8" cy="457.5" r="1.3"/>
<path d="M363.2 452.7 L373 451.5 L378.3 457.5 L386.5 466.7 L389 476 L384 480.5 L373 477 L363.2 470.2 Z"/>
<circle cx="366" cy="458" r="2.1"/><circle cx="366" cy="467.8" r="2.1"/>
<circle cx="372.5" cy="462.5" r="1.2" fill="#111"/>
<circle cx="378.3" cy="472.5" r="4"/><circle cx="378.3" cy="472.5" r="2"/>
<path d="M391.2 459.7 L394.7 457.3 L413.3 476 L409.8 478.3 Z"/>
<path fill="none" d="M386 476 L398 479 L408 479"/>

</g>
<g id="leaders" fill="none" stroke="#111" stroke-width="1.1">
<path d="M297.5 21 L246 71"/>
<path d="M397.5 39.5 L192 245 M370 67.5 V155"/>
<path d="M79.5 264 L142.5 286"/>
<path d="M380 256.4 H450.5"/>
<path d="M287 288.4 H455.5"/>
<path d="M400 339.5 H447.5"/>
<path d="M140.5 458.75 V422.5 L216.7 346.7"/>
<path d="M95.75 425 V522.5"/>
<path d="M220 513 V545"/>
<path d="M460.5 524.5 V550"/>
<path d="M305.5 550 V595 H487.5 M491.5 451.5 H553 V585"/>
</g>
<g id="labels" style="filter:grayscale(1)">
<text x="299" y="20.5" textLength="43.5" lengthAdjust="spacingAndGlyphs">SEATBACK</text>
<text x="403" y="38.5" textLength="44.5" lengthAdjust="spacingAndGlyphs">ARMRESTS</text>
<text x="49.5" y="243.5" textLength="44.25" lengthAdjust="spacingAndGlyphs">SEATBACK</text>
<text x="49.5" y="256.5" textLength="35" lengthAdjust="spacingAndGlyphs">RELEASE</text>
<text x="49.5" y="268.5" textLength="25" lengthAdjust="spacingAndGlyphs">LEVER</text>
<text x="454.5" y="259.5" textLength="44.25" lengthAdjust="spacingAndGlyphs">SEAT BASE</text>
<text x="458.25" y="291.5" textLength="54.75" lengthAdjust="spacingAndGlyphs">CONTROLLER</text>
<text x="452.5" y="344.5" textLength="59" lengthAdjust="spacingAndGlyphs">BODY SHROUD</text>
<text x="111.25" y="471" textLength="58.75" lengthAdjust="spacingAndGlyphs">SEAT RELEASE</text>
<text x="111.25" y="484.25" textLength="25" lengthAdjust="spacingAndGlyphs">LEVER</text>
<text x="66.25" y="533.5" textLength="61.25" lengthAdjust="spacingAndGlyphs">CASTER WHEEL</text>
<text x="194.3" y="558.8" textLength="52.4" lengthAdjust="spacingAndGlyphs">DRIVE WHEEL</text>
<text x="394" y="560" textLength="56" lengthAdjust="spacingAndGlyphs">FOOT RIGGING</text>
<text x="394" y="573" textLength="107" lengthAdjust="spacingAndGlyphs">(FOOT PLATFORM SHOWN)</text>
<text x="490" y="599.5" textLength="67.5" lengthAdjust="spacingAndGlyphs">CASTER WHEELS</text>
</g>
</svg>
</body></html>
